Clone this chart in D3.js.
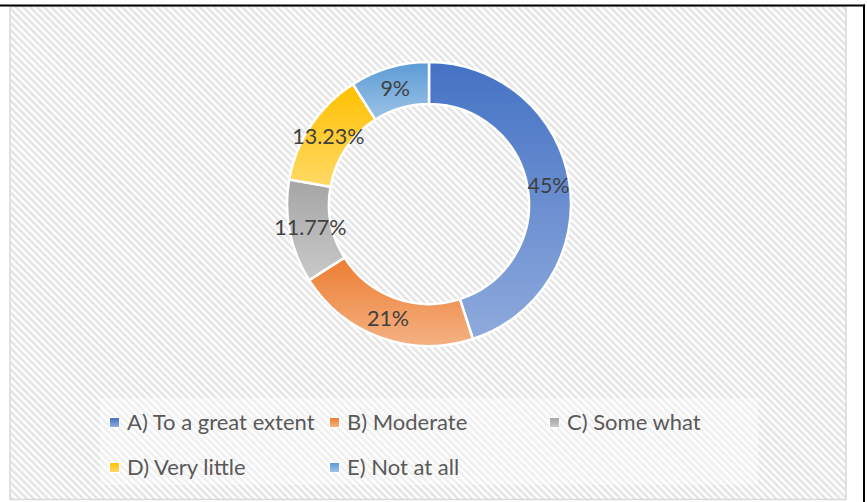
<!DOCTYPE html>
<html>
<head>
<meta charset="utf-8">
<script src="https://cdn.jsdelivr.net/npm/d3@7"></script>
<style>
  body { margin: 0; background: #fff; }
  svg { display: block; }
</style>
</head>
<body>
<div class="chart"></div>
<script>
// donut chart - answers share

const categories = ["A) To a great extent", "B) Moderate", "C) Some what", "D) Very little", "E) Not at all"];
const values = [45, 21, 11.77, 13.23, 9];
const labels = ["45%", "21%", "11.77%", "13.23%", "9%"];
const topColors = ["#4472C4", "#ED7D31", "#A5A5A5", "#FFC000", "#5B9BD5"];
const bottomColors = ["#8FAADC", "#F4B183", "#C9C9C9", "#FFD966", "#9DC3E6"];

const svgWidth = 867;
const svgHeight = 502;
const cx = 429, cy = 204;
const outerR = 142, innerR = 100;

let svg = d3.select(".chart").append("svg")
    .attr("width", svgWidth)
    .attr("height", svgHeight);

let defs = svg.append("defs");

// diagonal hatch background
let hatch = defs.append("pattern")
    .attr("id", "hatch")
    .attr("patternUnits", "userSpaceOnUse")
    .attr("width", 5)
    .attr("height", 5)
    .attr("patternTransform", "rotate(-45)");
hatch.append("rect").attr("width", 5).attr("height", 5).attr("fill", "#fff");
hatch.append("rect").attr("width", 2.5).attr("height", 5).attr("fill", "#e4e4e4");

categories.forEach((c, i) => {
    let g = defs.append("linearGradient")
        .attr("id", "grad" + i)
        .attr("x1", 0).attr("y1", 0)
        .attr("x2", 0).attr("y2", 1);
    g.append("stop").attr("offset", "0%").attr("stop-color", topColors[i]);
    g.append("stop").attr("offset", "100%").attr("stop-color", bottomColors[i]);
});

// chart area
svg.append("rect")
    .attr("x", 10).attr("y", 6.5)
    .attr("width", 836).attr("height", 493)
    .attr("fill", "url(#hatch)")
    .attr("stroke", "#d9d9d9")
    .attr("stroke-width", 1.5);

// page lines
svg.append("line")
    .attr("x1", 0).attr("x2", 865)
    .attr("y1", 5.5).attr("y2", 5.5)
    .attr("stroke", "#000").attr("stroke-width", 2);
svg.append("line")
    .attr("x1", 864).attr("x2", 864)
    .attr("y1", 4.5).attr("y2", svgHeight)
    .attr("stroke", "#000").attr("stroke-width", 2);

const pie = d3.pie().sort(null).value(d => d);
const arc = d3.arc().innerRadius(innerR).outerRadius(outerR);
const labelArc = d3.arc().innerRadius((innerR + outerR) / 2).outerRadius((innerR + outerR) / 2);

let donut = svg.append("g").attr("transform", `translate(${cx},${cy})`);
let arcs = pie(values);

donut.selectAll("path")
    .data(arcs)
    .enter().append("path")
    .attr("d", arc)
    .attr("fill", (d, i) => "url(#grad" + i + ")")
    .attr("stroke", "#fff")
    .attr("stroke-width", 2.5);

donut.selectAll("text")
    .data(arcs)
    .enter().append("text")
    .attr("transform", d => "translate(" + labelArc.centroid(d) + ")")
    .attr("text-anchor", "middle")
    .attr("dy", "0.36em")
    .style("font-family", "Lato, 'Open Sans', sans-serif")
    .style("font-size", "21.5px")
    .style("fill", "#404040")
    .text((d, i) => labels[i]);

// legend
let legend = svg.append("g");
legend.append("rect")
    .attr("x", 100).attr("y", 398)
    .attr("width", 658).attr("height", 87)
    .attr("fill", "#fff")
    .attr("opacity", 0.4);

const colX = d3.scalePoint().domain([0, 1, 2]).range([110, 550]);
const rowY = d3.scalePoint().domain([0, 1]).range([422.5, 467.5]);

let items = legend.selectAll(".item")
    .data(categories)
    .enter().append("g")
    .attr("class", "item")
    .attr("transform", (d, i) => `translate(${colX(i % 3)},${rowY(Math.floor(i / 3))})`);

items.append("rect")
    .attr("x", -1).attr("y", -5.5)
    .attr("width", 11).attr("height", 11)
    .attr("fill", "#fff");
items.append("rect")
    .attr("x", 0).attr("y", -4.5)
    .attr("width", 9).attr("height", 9)
    .attr("fill", (d, i) => "url(#grad" + i + ")");
items.append("text")
    .attr("x", 17)
    .attr("dy", "0.36em")
    .style("font-family", "Lato, 'Open Sans', sans-serif")
    .style("font-size", "22px")
    .style("fill", "#595959")
    .text(d => d);
</script>
</body>
</html>
